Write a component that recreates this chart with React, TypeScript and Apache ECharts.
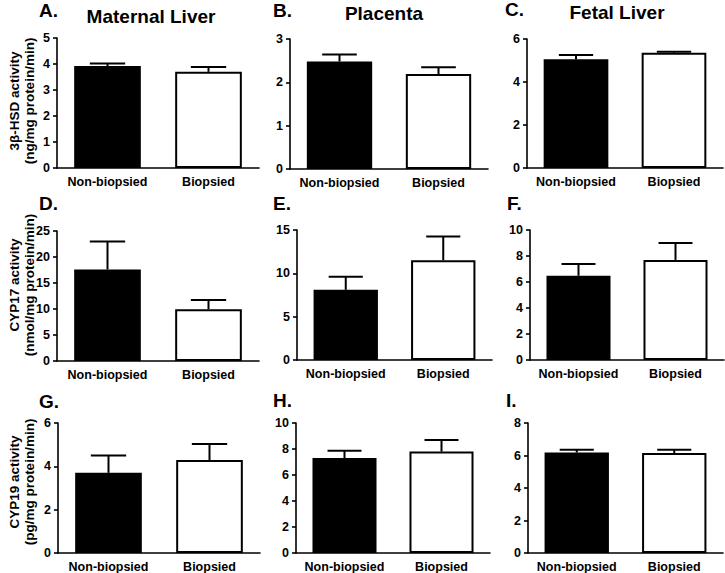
import React, { useEffect, useRef } from "react";
import * as echarts from "echarts";

// ---------- data ----------
const categories = ["Non-biopsied", "Biopsied"];
const panelLetters = ["A.", "B.", "C.", "D.", "E.", "F.", "G.", "H.", "I."];
const columnTitles = ["Maternal Liver", "Placenta", "Fetal Liver"];
const rowYTitles = [
  "3β-HSD activity\n(ng/mg protein/min)",
  "CYP17 activity\n(nmol/mg protein/min)",
  "CYP19 activity\n(pg/mg protein/min)",
];

// means [Non-biopsied, Biopsied] and SEM (upper whisker only)
const meanA = [3.92, 3.7];
const semA = [0.1, 0.18];
const meanB = [2.48, 2.19];
const semB = [0.16, 0.16];
const meanC = [5.06, 5.36];
const semC = [0.2, 0.05];
const meanD = [17.6, 9.95];
const semD = [5.4, 1.8];
const meanE = [8.1, 11.5];
const semE = [1.5, 2.75];
const meanF = [6.48, 7.7];
const semF = [0.9, 1.3];
const meanG = [3.7, 4.29];
const semG = [0.8, 0.74];
const meanH = [7.3, 7.8];
const semH = [0.56, 0.9];
const meanI = [6.18, 6.15];
const semI = [0.18, 0.2];

const yMax = [5, 3, 6, 25, 15, 10, 6, 10, 8];
const yInterval = [1, 1, 2, 5, 5, 2, 2, 2, 2];

const means = [meanA, meanB, meanC, meanD, meanE, meanF, meanG, meanH, meanI];
const sems = [semA, semB, semC, semD, semE, semF, semG, semH, semI];

// ---------- layout ----------
const grids = [
  { left: 57, top: 38, width: 202, height: 130 },
  { left: 290, top: 39, width: 198, height: 130 },
  { left: 527, top: 39, width: 196, height: 129 },
  { left: 57, top: 231, width: 202, height: 130 },
  { left: 297, top: 230, width: 195, height: 130 },
  { left: 530, top: 230, width: 194, height: 130 },
  { left: 58, top: 423, width: 202, height: 130 },
  { left: 296, top: 423, width: 194, height: 130 },
  { left: 528, top: 423, width: 195, height: 130 },
];
const letterPos = [
  [39, 10], [273, 10], [505, 9],
  [39, 203], [273, 203], [507, 203],
  [39, 401], [273, 400], [506, 400],
];
const titlePos = [
  [151, 16], [384, 13], [617, 12.5],
];
const yTitleCenterY = [101, 285, 482];

const FONT = "'Liberation Sans', Arial, Helvetica, sans-serif";

export default function App() {
  const ref = useRef<HTMLDivElement>(null);

  useEffect(() => {
    if (!ref.current) return;
    const chart = echarts.init(ref.current, undefined, { renderer: "svg" });

    const xAxes: any[] = [];
    const yAxes: any[] = [];
    const series: any[] = [];

    for (let i = 0; i < 9; i++) {
      xAxes.push({
        type: "category",
        gridIndex: i,
        data: categories,
        axisLine: { lineStyle: { color: "#000", width: 1.6 } },
        axisTick: { alignWithLabel: true, interval: 0, length: 4, lineStyle: { color: "#000", width: 1.6 } },
        axisLabel: {
          interval: 0,
          hideOverlap: false,
          color: "#000",
          fontFamily: FONT,
          fontWeight: "bold",
          fontSize: 12.5,
          margin: 7,
        },
        splitLine: { show: false },
      });
      yAxes.push({
        type: "value",
        gridIndex: i,
        min: 0,
        max: yMax[i],
        interval: yInterval[i],
        axisLine: { show: true, lineStyle: { color: "#000", width: 1.6 } },
        axisTick: { show: true, length: 4, lineStyle: { color: "#000", width: 1.6 } },
        axisLabel: {
          color: "#000",
          fontFamily: FONT,
          fontWeight: "bold",
          fontSize: 12.5,
          margin: 7,
        },
        splitLine: { show: false },
      });
      series.push({
        type: "bar",
        xAxisIndex: i,
        yAxisIndex: i,
        barWidth: "66%",
        z: 2,
        data: means[i].map((v, k) => ({
          value: v,
          itemStyle: {
            color: k === 0 ? "#000" : "#fff",
            borderColor: "#000",
            borderWidth: 2,
          },
        })),
      });
      series.push({
        type: "custom",
        xAxisIndex: i,
        yAxisIndex: i,
        z: 3,
        encode: { x: 0, y: 1 },
        data: means[i].map((v, k) => [k, v + sems[i][k], v]),
        renderItem: (params: any, api: any) => {
          const x = api.value(0);
          const top = api.coord([x, api.value(1)]);
          const base = api.coord([x, api.value(2)]);
          const half = api.size([1, 0])[0] * 0.175;
          const style = { stroke: "#000", lineWidth: 2 };
          return {
            type: "group",
            children: [
              { type: "line", shape: { x1: top[0], y1: top[1], x2: base[0], y2: base[1] }, style },
              { type: "line", shape: { x1: top[0] - half, y1: top[1], x2: top[0] + half, y2: top[1] }, style },
            ],
          };
        },
      });
    }

    const graphic: any[] = [];
    panelLetters.forEach((t, i) => {
      graphic.push({
        type: "text",
        x: letterPos[i][0],
        y: letterPos[i][1],
        style: {
          text: t,
          fontFamily: FONT,
          fontWeight: "bold",
          fontSize: 19,
          fill: "#000",
          textAlign: "left",
          textVerticalAlign: "middle",
        },
      });
    });
    columnTitles.forEach((t, i) => {
      graphic.push({
        type: "text",
        x: titlePos[i][0],
        y: titlePos[i][1],
        style: {
          text: t,
          fontFamily: FONT,
          fontWeight: "bold",
          fontSize: 19,
          fill: "#000",
          textAlign: "center",
          textVerticalAlign: "middle",
        },
      });
    });
    rowYTitles.forEach((t, i) => {
      graphic.push({
        type: "text",
        x: 21.5,
        y: yTitleCenterY[i],
        rotation: Math.PI / 2,
        style: {
          text: t,
          fontFamily: FONT,
          fontWeight: "bold",
          fontSize: 13.5,
          lineHeight: 15,
          fill: "#000",
          textAlign: "center",
          textVerticalAlign: "middle",
        },
      });
    });

    chart.setOption({
      animation: false,
      backgroundColor: "#fff",
      grid: grids.map((g) => ({ ...g, containLabel: false })),
      xAxis: xAxes,
      yAxis: yAxes,
      series,
      graphic,
    });

    return () => chart.dispose();
  }, []);

  return (
    <div
      ref={ref}
      style={{ position: "fixed", left: 0, top: 0, width: 725, height: 573, background: "#fff" }}
    />
  );
}
